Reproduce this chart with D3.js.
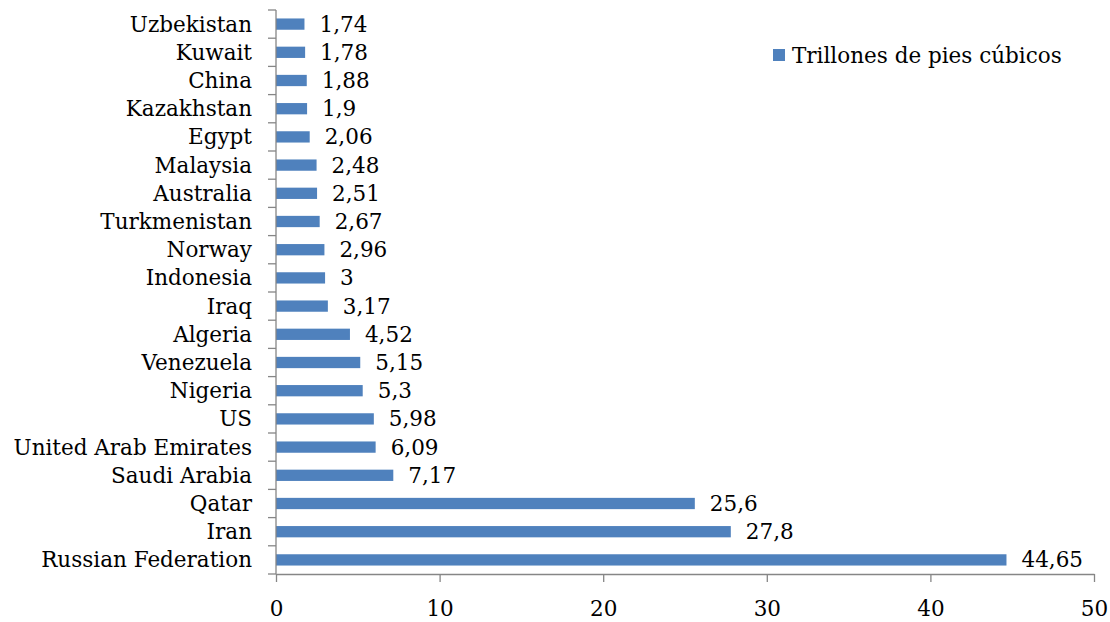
<!DOCTYPE html>
<html>
<head>
<meta charset="utf-8">
<script src="https://cdn.jsdelivr.net/npm/d3@7"></script>
<style>
  html, body { margin: 0; padding: 0; background: #ffffff; }
  svg { display: block; }
  text { font-family: "DejaVu Serif", serif; fill: #000; }
</style>
</head>
<body>
<svg id="chart" width="1110" height="622"></svg>
<script>
const categories = ["Uzbekistan","Kuwait","China","Kazakhstan","Egypt","Malaysia","Australia","Turkmenistan","Norway","Indonesia","Iraq","Algeria","Venezuela","Nigeria","US","United Arab Emirates","Saudi Arabia","Qatar","Iran","Russian Federation"];
const values = [1.74,1.78,1.88,1.9,2.06,2.48,2.51,2.67,2.96,3,3.17,4.52,5.15,5.3,5.98,6.09,7.17,25.6,27.8,44.65];
const xTicks = [0,10,20,30,40,50];
const seriesName = "Trillones de pies cúbicos";

const svg = d3.select("#chart");
const fontSize = 21.5;
const axisColor = "#868686";
const barColor = "#4F81BD";

const x = d3.scaleLinear().domain([0, 50]).range([276, 1094]);
const y = d3.scaleBand().domain(categories).range([10, 574]).paddingInner(0.6).paddingOuter(0.3);
const step = y.step();

// bars
svg.append("g").selectAll("rect").data(values).join("rect")
  .attr("x", x(0))
  .attr("y", (d, i) => y(categories[i]))
  .attr("width", d => x(d) - x(0))
  .attr("height", y.bandwidth())
  .attr("fill", barColor);

// y axis line and ticks at slot boundaries
const yAxis = svg.append("g");
yAxis.append("line").attr("x1", x(0)).attr("x2", x(0)).attr("y1", 10).attr("y2", 574)
  .attr("stroke", axisColor).attr("stroke-width", 1.3);
yAxis.selectAll("line.tick").data(d3.range(categories.length + 1)).join("line")
  .attr("class", "tick")
  .attr("x1", x(0) - 8).attr("x2", x(0))
  .attr("y1", i => 10 + i * step).attr("y2", i => 10 + i * step)
  .attr("stroke", axisColor).attr("stroke-width", 1.3);

// category labels
svg.append("g").selectAll("text").data(categories).join("text")
  .attr("x", 252)
  .attr("y", d => y(d) + y.bandwidth() / 2 + 7.5)
  .attr("text-anchor", "end")
  .attr("font-size", fontSize)
  .text(d => d);

// value labels
svg.append("g").selectAll("text").data(values).join("text")
  .attr("x", d => x(d) + 15)
  .attr("y", (d, i) => y(categories[i]) + y.bandwidth() / 2 + 7.5)
  .attr("font-size", fontSize)
  .text(d => String(d).replace(".", ","));

// x axis
const xAxisG = svg.append("g").attr("transform", "translate(0,574)")
  .call(d3.axisBottom(x).tickValues(xTicks).tickSize(8).tickSizeOuter(0).tickFormat(d3.format("d")));
xAxisG.selectAll("path.domain").attr("stroke", axisColor).attr("stroke-width", 1.3);
xAxisG.selectAll(".tick line").attr("stroke", axisColor).attr("stroke-width", 1.3);
xAxisG.selectAll(".tick text")
  .attr("y", 42).attr("dy", null)
  .attr("font-size", fontSize)
  .attr("font-family", "DejaVu Serif")
  .attr("fill", "#000");

// legend
const lg = svg.append("g");
lg.append("rect").attr("x", 773).attr("y", 49).attr("width", 12).attr("height", 12).attr("fill", barColor);
lg.append("text").attr("x", 792).attr("y", 63).attr("font-size", fontSize).text(seriesName);
</script>
</body>
</html>
